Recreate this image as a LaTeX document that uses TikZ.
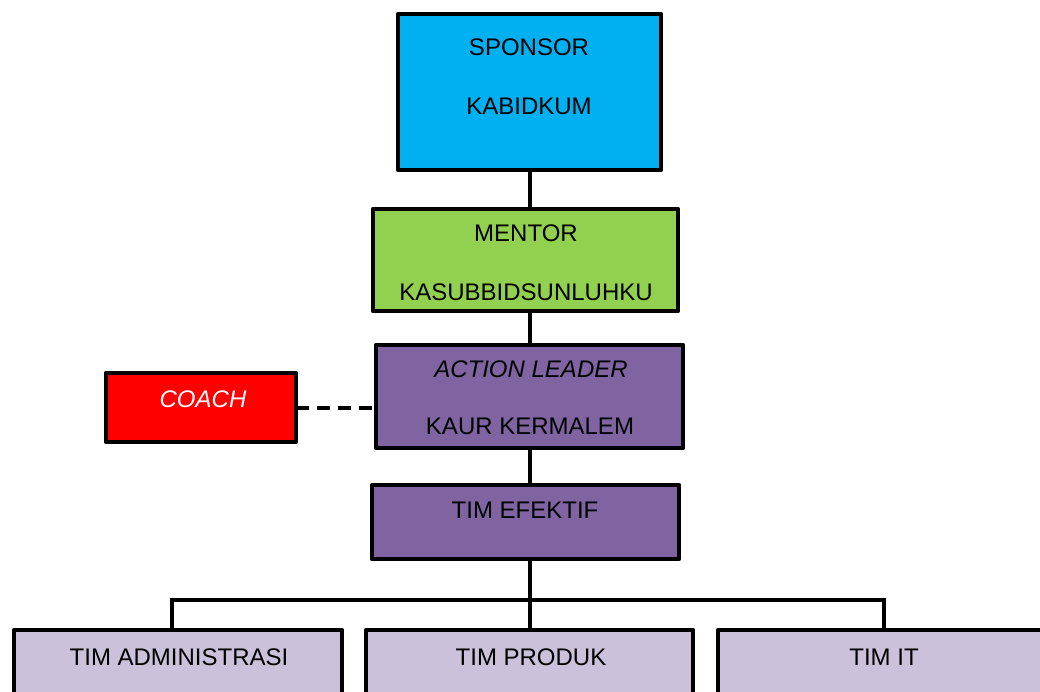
\documentclass[tikz,border=0pt]{standalone}
\usepackage{fontspec}
\setmainfont{Liberation Sans}
\definecolor{sponsorblue}{HTML}{00B0F0}
\definecolor{mentorgreen}{HTML}{92D050}
\definecolor{leaderpurple}{HTML}{8064A2}
\definecolor{timlilac}{HTML}{CCC1DA}
\begin{document}
\begin{tikzpicture}[
  x=1pt, y=-1pt,
  every node/.style={font=\fontsize{24}{28}\selectfont},
  box/.style={draw, line width=4.5pt, line join=round, anchor=north west, inner sep=0pt, outer sep=0pt},
  txt/.style={inner sep=0pt},
  link/.style={line width=4pt},
]
\clip (0,0) rectangle (1040,692);
\fill[white] (0,0) rectangle (1040,692);

\node[box, fill=sponsorblue, minimum width=263, minimum height=156] (sponsor) at (398,14) {};
\node[txt] (sponsorT1) at (529,47) {SPONSOR};
\node[txt] (sponsorT2) at (529,106) {KABIDKUM};

\node[box, fill=mentorgreen, minimum width=305, minimum height=102] (mentor) at (373,209) {};
\node[txt] (mentorT1) at (526,233) {MENTOR};
\node[txt] (mentorT2) at (526,292) {KASUBBIDSUNLUHKU};

\node[box, fill=leaderpurple, minimum width=307, minimum height=103] (leader) at (376,345) {};
\node[txt, font=\fontsize{24}{28}\selectfont\itshape] (leaderT1) at (531,369) {ACTION LEADER};
\node[txt] (leaderT2) at (530,426) {KAUR KERMALEM};

\node[box, fill=red, minimum width=190, minimum height=69] (coach) at (106,373) {};
\node[txt, text=white, font=\fontsize{24}{28}\selectfont\itshape] (coachT) at (203,399) {COACH};

\node[box, fill=leaderpurple, minimum width=307, minimum height=74] (efektif) at (372,485) {};
\node[txt] (efektifT) at (525,510) {TIM EFEKTIF};

\node[box, fill=timlilac, minimum width=328, minimum height=90] (admin) at (14,630) {};
\node[txt] (adminT) at (179,657) {TIM ADMINISTRASI};

\node[box, fill=timlilac, minimum width=327, minimum height=90] (produk) at (366,630) {};
\node[txt] (produkT) at (531,657) {TIM PRODUK};

\node[box, fill=timlilac, minimum width=332, minimum height=90] (it) at (718,630) {};
\node[txt] (itT) at (884,657) {TIM IT};

% connectors
\draw[link] (sponsor.south) -- (sponsor.south |- mentor.north);
\draw[link] (sponsor.south |- mentor.south) -- (sponsor.south |- leader.north);
\draw[link] (sponsor.south |- leader.south) -- (sponsor.south |- efektif.north);
\draw[link] (sponsor.south |- efektif.south) -- (sponsor.south |- produk.north);
\coordinate (bar) at (529,600);
\draw[link] ([xshift=-6]admin.north) |- (bar) -| (it.north);
\draw[link, dash pattern=on 13pt off 8pt] (coach.east) -- (coach.east -| leader.west);
\end{tikzpicture}
\end{document}
